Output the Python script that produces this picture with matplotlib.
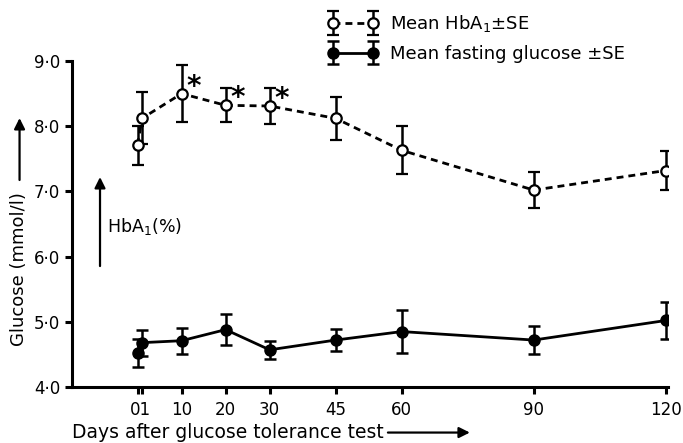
import matplotlib.pyplot as plt
from matplotlib.container import ErrorbarContainer
from matplotlib.legend_handler import HandlerErrorbar
from matplotlib.text import OffsetFrom

# values
days = [0, 1, 10, 20, 30, 45, 60, 90, 120]
hba1_mean = [7.71, 8.12, 8.50, 8.32, 8.31, 8.12, 7.63, 7.02, 7.32]
hba1_se = [0.30, 0.40, 0.44, 0.26, 0.28, 0.33, 0.37, 0.28, 0.30]
glucose_mean = [4.52, 4.68, 4.71, 4.88, 4.57, 4.72, 4.85, 4.72, 5.02]
glucose_se = [0.21, 0.20, 0.20, 0.24, 0.14, 0.17, 0.33, 0.22, 0.28]
significant = [False, False, True, True, True, False, False, False, False]
# days 0 and 1 share one "01" label
day_labels = ['', '', '10', '20', '30', '45', '60', '90', '120']
y_ticks = [4.0, 5.0, 6.0, 7.0, 8.0, 9.0]

plt.rcParams['font.family'] = ['DejaVu Sans']

fig = plt.figure(figsize=(6.83, 4.43), dpi=100)
ax = fig.add_axes([72 / 683, 56 / 443, 596 / 683, 326 / 443])

hba1 = ax.errorbar(days, hba1_mean, yerr=hba1_se, marker='o', ls=(0, (2.5, 1.8)),
                   color='black', lw=2, mfc='white', mec='black', mew=1.6, ms=7.5,
                   elinewidth=1.8, capsize=4.5, capthick=1.8, zorder=3)
gluc = ax.errorbar(days, glucose_mean, yerr=glucose_se, marker='o', ls='-',
                   color='black', lw=2, ms=8, elinewidth=1.8, capsize=4.5,
                   capthick=1.8, zorder=3)

# significance stars
for d, m, s in zip(days, hba1_mean, significant):
    if s:
        ax.annotate('*', xy=(d, m), xytext=(8.5, 5), textcoords='offset points',
                    fontsize=20, fontweight='bold', ha='center', va='center')

ax.set_xlim(-14.9, 120.5)
ax.set_ylim(4, 9)
ax.set_xticks(days)
ax.set_xticklabels(day_labels)
ax.set_xticks([(days[0] + days[1]) / 2 + 0.2], ['01'], minor=True)
ax.set_yticks(y_ticks)
ax.set_yticklabels([f'{v:.1f}'.replace('.', '\u00b7') for v in y_ticks])
ax.spines['top'].set_visible(False)
ax.spines['right'].set_visible(False)
for sp in ['left', 'bottom']:
    ax.spines[sp].set_linewidth(2.2)
ax.tick_params(axis='both', direction='out', width=2.2, length=5, labelsize=12)
ax.tick_params(axis='x', pad=5)
ax.tick_params(axis='x', which='minor', length=0, labelsize=12, pad=10)

xl = ax.set_xlabel('Days after glucose tolerance test', loc='left', fontsize=13.5, labelpad=3)
ax.annotate('', xy=(62, 0), xycoords=OffsetFrom(xl, (1, 0.5), unit='points'),
            xytext=(3, 0), textcoords=OffsetFrom(xl, (1, 0.5), unit='points'),
            arrowprops=dict(arrowstyle='-|>', lw=1.6, color='black', mutation_scale=16,
                            shrinkA=0, shrinkB=0))

ax.set_ylabel('Glucose (mmol/l)', fontsize=13)
ax.yaxis.set_label_coords(-0.074, 0.362)
ax.annotate('', xy=(-0.088, 0.825), xycoords='axes fraction',
            xytext=(-0.088, 0.635), textcoords='axes fraction',
            arrowprops=dict(arrowstyle='-|>', lw=1.6, color='black', mutation_scale=16,
                            shrinkA=0, shrinkB=0))

ax.annotate('', xy=(0.047, 0.644), xycoords='axes fraction',
            xytext=(0.047, 0.371), textcoords='axes fraction',
            arrowprops=dict(arrowstyle='-|>', lw=1.6, color='black', mutation_scale=16,
                            shrinkA=0, shrinkB=0))
ax.text(0.059, 0.491, 'HbA$_1$(%)', transform=ax.transAxes, fontsize=12.5,
        ha='left', va='center')

ax.legend([hba1, gluc], ['Mean HbA$_1$\u00b1SE', 'Mean fasting glucose \u00b1SE'],
          handler_map={ErrorbarContainer: HandlerErrorbar(numpoints=2, yerr_size=0.66)},
          loc='upper left', bbox_to_anchor=(328 / 683, 1 - 13 / 443),
          bbox_transform=fig.transFigure, frameon=False, fontsize=13,
          handlelength=2.8, handletextpad=0.65, labelspacing=0.6,
          borderpad=0, borderaxespad=0)

fig.savefig('out.png', dpi=100)
